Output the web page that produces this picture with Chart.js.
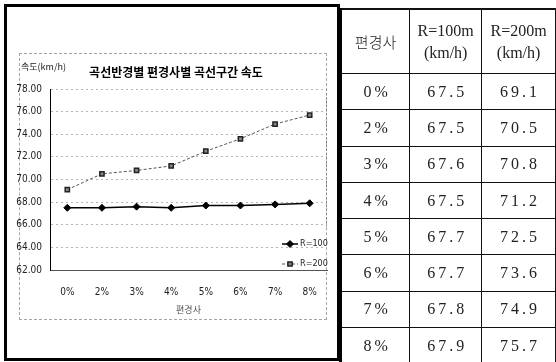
<!DOCTYPE html>
<html>
<head>
<meta charset="utf-8">
<script src="https://cdn.jsdelivr.net/npm/chart.js@4.4.1/dist/chart.umd.min.js"></script>
<style>
  html, body { margin: 0; padding: 0; background: #fff; width: 556px; height: 362px; overflow: hidden; }
  #frame { position: absolute; left: 4px; top: 4px; width: 336px; height: 357px; border: 3px solid #000; box-sizing: border-box; }
  #inner { position: absolute; left: 19px; top: 53px; width: 308px; height: 267px; border: 1px dashed #a5a5a5; box-sizing: border-box; }
  #chart { position: absolute; left: 0; top: 0; }
  #tbl { position: absolute; left: 339px; top: 8px; border-collapse: collapse; table-layout: fixed; }
  #tbl td { border: 1px solid #111; text-align: center; vertical-align: middle; padding: 0; color: #222;
            font-family: "Liberation Serif", "DejaVu Serif", serif; font-size: 16px; }
  #tbl tr:first-child td { border-top: 2px solid #111; height: 63px; line-height: 22px; }
  #tbl td:first-child { border-left: 3px solid #000; }
  #tbl tr.row td { height: 35.3px; }
  #tbl td.num { letter-spacing: 3px; text-indent: 3px; }
  #tbl td.kr { font-family: "Noto Sans CJK KR", sans-serif; font-size: 15px; font-weight: 300; }
</style>
</head>
<body>
<div id="frame"></div>
<div id="inner"></div>
<canvas id="chart" width="340" height="362"></canvas>
<table id="tbl">
  <colgroup><col style="width:74px"><col style="width:74px"><col style="width:76px"></colgroup>
  <tbody id="tbody"></tbody>
</table>
<script>
// Superelevation categories and curve-section speeds (km/h) per curve radius
const categories = ['0%', '2%', '3%', '4%', '5%', '6%', '7%', '8%'];
const speedR100 = [67.5, 67.5, 67.6, 67.5, 67.7, 67.7, 67.8, 67.9];
const speedR200 = [69.1, 70.5, 70.8, 71.2, 72.5, 73.6, 74.9, 75.7];
const seriesNames = ['R=100', 'R=200'];
const yRange = [62, 78];
const yStep = 2;

const narrow = '"Liberation Sans Narrow", "DejaVu Sans Condensed", "Arial Narrow", sans-serif';
const kr = '"Noto Sans CJK KR", sans-serif';

// Summary table next to the chart
const tbody = document.getElementById('tbody');
tbody.innerHTML =
  '<tr><td class="kr">편경사</td><td>R=100m<br>(km/h)</td><td>R=200m<br>(km/h)</td></tr>' +
  categories.map((c, i) =>
    '<tr class="row"><td class="num">' + c + '</td><td class="num">' + speedR100[i].toFixed(1) +
    '</td><td class="num">' + speedR200[i].toFixed(1) + '</td></tr>').join('');

// Title, y-axis caption, plot border and legend
const decor = {
  id: 'decor',
  beforeDatasetsDraw(chart) {
    const { ctx, chartArea: a } = chart;
    ctx.save();
    ctx.strokeStyle = '#888';
    ctx.lineWidth = 1;
    ctx.setLineDash([2, 2]);
    ctx.beginPath();
    ctx.moveTo(a.right - 0.5, a.top);
    ctx.lineTo(a.right - 0.5, a.top + 0.76 * (a.bottom - a.top));
    ctx.stroke();
    ctx.restore();
  },
  afterDraw(chart) {
    const { ctx } = chart;
    ctx.save();
    ctx.fillStyle = '#000';
    ctx.textBaseline = 'middle';
    ctx.textAlign = 'center';
    ctx.font = 'bold 12px ' + kr;
    ctx.fillText('곡선반경별 편경사별 곡선구간 속도', 176, 72);
    ctx.textAlign = 'left';
    ctx.font = '9px ' + kr;
    ctx.fillStyle = '#222';
    ctx.fillText('속도(km/h)', 21, 67);

    // legend entries
    const ys = [244, 264];
    chart.data.datasets.forEach((ds, i) => {
      const y = ys[i];
      ctx.strokeStyle = ds.borderColor;
      ctx.lineWidth = ds.borderWidth;
      ctx.setLineDash(ds.borderDash || []);
      ctx.beginPath();
      ctx.moveTo(282, y);
      ctx.lineTo(298, y);
      ctx.stroke();
      ctx.setLineDash([]);
      ctx.fillStyle = ds.pointBackgroundColor;
      ctx.strokeStyle = ds.pointBorderColor;
      ctx.lineWidth = ds.pointBorderWidth;
      Chart.helpers.drawPoint(ctx, { pointStyle: ds.pointStyle, radius: ds.pointRadius, rotation: 0, borderWidth: ds.pointBorderWidth }, 290, y);
      ctx.fillStyle = '#222';
      ctx.font = '9px ' + narrow;
      ctx.fillText(ds.label, 300, y);
    });
    ctx.restore();
  }
};

new Chart(document.getElementById('chart'), {
  type: 'line',
  data: {
    labels: categories,
    datasets: [
      {
        label: seriesNames[0],
        data: speedR100,
        borderColor: '#000',
        borderWidth: 1.5,
        pointStyle: 'rectRot',
        pointRadius: 3.5,
        pointBackgroundColor: '#000',
        pointBorderColor: '#000',
        pointBorderWidth: 1,
        tension: 0
      },
      {
        label: seriesNames[1],
        data: speedR200,
        borderColor: '#555',
        borderWidth: 1,
        borderDash: [3, 2],
        pointStyle: 'rect',
        pointRadius: 3,
        pointBackgroundColor: '#888',
        pointBorderColor: '#222',
        pointBorderWidth: 1.5,
        tension: 0
      }
    ]
  },
  options: {
    responsive: false,
    animation: false,
    devicePixelRatio: 1,
    layout: { padding: { top: 89, left: 5, right: 13, bottom: 47 } },
    plugins: { legend: { display: false }, title: { display: false }, tooltip: { enabled: false } },
    scales: {
      x: {
        offset: true,
        grid: { display: false },
        border: { color: '#555', width: 1 },
        ticks: { padding: 8, color: '#222', font: { family: narrow, size: 10 } },
        title: { display: true, text: '편경사', color: '#555', padding: { top: 0, bottom: 0 }, font: { family: kr, size: 9 } },
        afterFit: s => { s.height = 45; }
      },
      y: {
        min: yRange[0],
        max: yRange[1],
        grid: { color: '#b5b5b5', lineWidth: 1, drawTicks: false },
        border: { color: '#000', width: 1, dash: [2, 3] },
        ticks: { stepSize: yStep, padding: 8, color: '#222', font: { family: narrow, size: 10 },
                 callback: v => Number(v).toFixed(2) },
        afterFit: s => { s.width = 45; }
      }
    }
  },
  plugins: [decor]
});
</script>
</body>
</html>
